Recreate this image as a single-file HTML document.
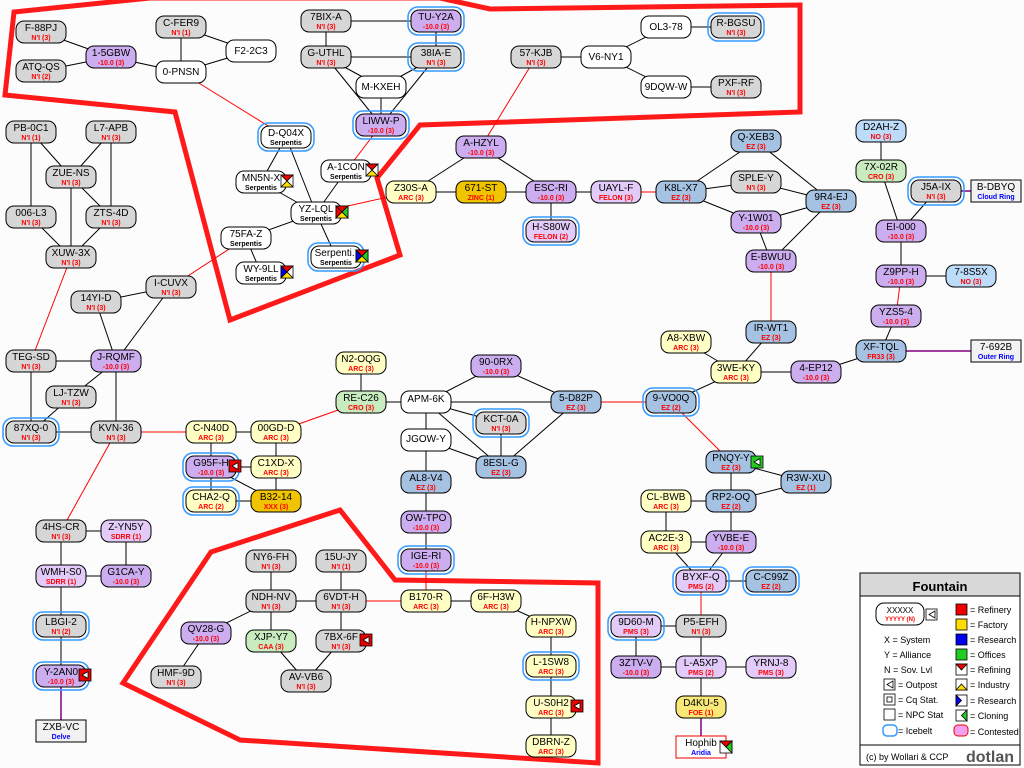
<!DOCTYPE html>
<html><head><meta charset="utf-8"><style>
body{margin:0;background:#fff}
svg{display:block;font-family:"Liberation Sans",sans-serif}
.nd rect.b{stroke:#000;stroke-width:1}
.nd text{font-size:10px;text-anchor:middle;fill:#000}
.nd text.s{font-size:7px;font-weight:bold;fill:#f00}
.nd text.u{font-size:7px;font-weight:bold;fill:#00f}
.gy rect.b{fill:#d6d6d6}.pu rect.b{fill:#ccaef0}.lp rect.b{fill:#e2cbf8}.ye rect.b{fill:#ffffc4}
.or rect.b{fill:#f0c400}.bl rect.b{fill:#a6c2e2}.lb rect.b{fill:#bcdcfa}.gr rect.b{fill:#c8ecc0}
.wh rect.b{fill:#fff}.fo rect.b{fill:#f8e878}
rect.ice{fill:none;stroke:#3399ff;stroke-width:1.5}
</style></head><body>
<svg id="m" width="1024" height="768" viewBox="0 0 1024 768">
<rect width="1024" height="768" fill="#fcfcfc"/>
<g fill="none" stroke="#ff1a1a" stroke-width="5" stroke-linejoin="miter">
<polygon points="14,12 150,-2 440,-2 490,9 800,5 800,112 420,125 377,178 400,255 230,320 175,112 5,95"/>
<polygon points="211,552 340,510 395,580 598,583 598,763 240,740 123,683"/>
</g>
<g id="edges"></g>
<g id="nodes">
<g class="nd gy" id="F-88PJ" transform="translate(16,21)"><rect class="b" width="50" height="22" rx="8"/><text x="25" y="10">F-88PJ</text><text class="s" x="25" y="19">N'I (3)</text></g>
<g class="nd gy" id="ATQ-QS" transform="translate(16,60)"><rect class="b" width="50" height="22" rx="8"/><text x="25" y="10">ATQ-QS</text><text class="s" x="25" y="19">N'I (2)</text></g>
<g class="nd pu" id="1-5GBW" transform="translate(86,46)"><rect class="b" width="50" height="22" rx="8"/><text x="25" y="10">1-5GBW</text><text class="s" x="25" y="19">-10.0 (3)</text></g>
<g class="nd gy" id="C-FER9" transform="translate(156,16)"><rect class="b" width="50" height="22" rx="8"/><text x="25" y="10">C-FER9</text><text class="s" x="25" y="19">N'I (1)</text></g>
<g class="nd wh" id="F2-2C3" transform="translate(226,40)"><rect class="b" width="50" height="22" rx="8"/><text x="25" y="14">F2-2C3</text></g>
<g class="nd wh" id="0-PNSN" transform="translate(156,61)"><rect class="b" width="50" height="22" rx="8"/><text x="25" y="14">0-PNSN</text></g>
<g class="nd gy" id="7BIX-A" transform="translate(301,10)"><rect class="b" width="50" height="22" rx="8"/><text x="25" y="10">7BIX-A</text><text class="s" x="25" y="19">N'I (3)</text></g>
<g class="nd pu" id="TU-Y2A" transform="translate(411,10)"><rect class="ice" x="-3" y="-3" width="56" height="28" rx="10"/><rect class="b" width="50" height="22" rx="8"/><text x="25" y="10">TU-Y2A</text><text class="s" x="25" y="19">-10.0 (3)</text></g>
<g class="nd gy" id="G-UTHL" transform="translate(301,46)"><rect class="b" width="50" height="22" rx="8"/><text x="25" y="10">G-UTHL</text><text class="s" x="25" y="19">N'I (3)</text></g>
<g class="nd gy" id="38IA-E" transform="translate(411,46)"><rect class="ice" x="-3" y="-3" width="56" height="28" rx="10"/><rect class="b" width="50" height="22" rx="8"/><text x="25" y="10">38IA-E</text><text class="s" x="25" y="19">N'I (3)</text></g>
<g class="nd wh" id="M-KXEH" transform="translate(356,76)"><rect class="b" width="50" height="22" rx="8"/><text x="25" y="14">M-KXEH</text></g>
<g class="nd pu" id="LIWW-P" transform="translate(356,114)"><rect class="ice" x="-3" y="-3" width="56" height="28" rx="10"/><rect class="b" width="50" height="22" rx="8"/><text x="25" y="10">LIWW-P</text><text class="s" x="25" y="19">-10.0 (3)</text></g>
<g class="nd gy" id="57-KJB" transform="translate(511,46)"><rect class="b" width="50" height="22" rx="8"/><text x="25" y="10">57-KJB</text><text class="s" x="25" y="19">N'I (3)</text></g>
<g class="nd wh" id="V6-NY1" transform="translate(581,46)"><rect class="b" width="50" height="22" rx="8"/><text x="25" y="14">V6-NY1</text></g>
<g class="nd wh" id="OL3-78" transform="translate(641,16)"><rect class="b" width="50" height="22" rx="8"/><text x="25" y="14">OL3-78</text></g>
<g class="nd gy" id="R-BGSU" transform="translate(711,16)"><rect class="ice" x="-3" y="-3" width="56" height="28" rx="10"/><rect class="b" width="50" height="22" rx="8"/><text x="25" y="10">R-BGSU</text><text class="s" x="25" y="19">N'I (3)</text></g>
<g class="nd wh" id="9DQW-W" transform="translate(641,76)"><rect class="b" width="50" height="22" rx="8"/><text x="25" y="14">9DQW-W</text></g>
<g class="nd gy" id="PXF-RF" transform="translate(711,76)"><rect class="b" width="50" height="22" rx="8"/><text x="25" y="10">PXF-RF</text><text class="s" x="25" y="19">N'I (3)</text></g>
<g class="nd wh" id="D-Q04X" transform="translate(261,126)"><rect class="ice" x="-3" y="-3" width="56" height="28" rx="10"/><rect class="b" width="50" height="22" rx="8"/><text x="25" y="10">D-Q04X</text><text class="s" style="fill:#000" x="25" y="19">Serpentis</text></g>
<g class="nd wh" id="MN5N-X" transform="translate(236,171)"><rect class="b" width="50" height="22" rx="8"/><text x="25" y="10">MN5N-X</text><text class="s" style="fill:#000" x="25" y="19">Serpentis</text></g>
<g class="nd wh" id="A-1CON" transform="translate(321,160)"><rect class="b" width="50" height="22" rx="8"/><text x="25" y="10">A-1CON</text><text class="s" style="fill:#000" x="25" y="19">Serpentis</text></g>
<g class="nd wh" id="YZ-LQL" transform="translate(291,202)"><rect class="b" width="50" height="22" rx="8"/><text x="25" y="10">YZ-LQL</text><text class="s" style="fill:#000" x="25" y="19">Serpentis</text></g>
<g class="nd wh" id="75FA-Z" transform="translate(221,227)"><rect class="b" width="50" height="22" rx="8"/><text x="25" y="10">75FA-Z</text><text class="s" style="fill:#000" x="25" y="19">Serpentis</text></g>
<g class="nd wh" id="WY-9LL" transform="translate(236,262)"><rect class="b" width="50" height="22" rx="8"/><text x="25" y="10">WY-9LL</text><text class="s" style="fill:#000" x="25" y="19">Serpentis</text></g>
<g class="nd wh" id="SERP" transform="translate(311,246)"><rect class="ice" x="-3" y="-3" width="56" height="28" rx="10"/><rect class="b" width="50" height="22" rx="8"/><text x="25" y="10">Serpenti..</text><text class="s" style="fill:#000" x="25" y="19">Serpentis</text></g>
<g class="nd gy" id="PB-0C1" transform="translate(6,121)"><rect class="b" width="50" height="22" rx="8"/><text x="25" y="10">PB-0C1</text><text class="s" x="25" y="19">N'I (1)</text></g>
<g class="nd gy" id="L7-APB" transform="translate(86,121)"><rect class="b" width="50" height="22" rx="8"/><text x="25" y="10">L7-APB</text><text class="s" x="25" y="19">N'I (3)</text></g>
<g class="nd gy" id="ZUE-NS" transform="translate(46,166)"><rect class="b" width="50" height="22" rx="8"/><text x="25" y="10">ZUE-NS</text><text class="s" x="25" y="19">N'I (3)</text></g>
<g class="nd gy" id="006-L3" transform="translate(6,206)"><rect class="b" width="50" height="22" rx="8"/><text x="25" y="10">006-L3</text><text class="s" x="25" y="19">N'I (3)</text></g>
<g class="nd gy" id="ZTS-4D" transform="translate(86,206)"><rect class="b" width="50" height="22" rx="8"/><text x="25" y="10">ZTS-4D</text><text class="s" x="25" y="19">N'I (3)</text></g>
<g class="nd gy" id="XUW-3X" transform="translate(46,246)"><rect class="b" width="50" height="22" rx="8"/><text x="25" y="10">XUW-3X</text><text class="s" x="25" y="19">N'I (3)</text></g>
<g class="nd gy" id="I-CUVX" transform="translate(146,276)"><rect class="b" width="50" height="22" rx="8"/><text x="25" y="10">I-CUVX</text><text class="s" x="25" y="19">N'I (3)</text></g>
<g class="nd gy" id="14YI-D" transform="translate(71,291)"><rect class="b" width="50" height="22" rx="8"/><text x="25" y="10">14YI-D</text><text class="s" x="25" y="19">N'I (3)</text></g>
<g class="nd gy" id="TEG-SD" transform="translate(6,350)"><rect class="b" width="50" height="22" rx="8"/><text x="25" y="10">TEG-SD</text><text class="s" x="25" y="19">N'I (3)</text></g>
<g class="nd pu" id="J-RQMF" transform="translate(91,350)"><rect class="b" width="50" height="22" rx="8"/><text x="25" y="10">J-RQMF</text><text class="s" x="25" y="19">-10.0 (3)</text></g>
<g class="nd gy" id="LJ-TZW" transform="translate(46,386)"><rect class="b" width="50" height="22" rx="8"/><text x="25" y="10">LJ-TZW</text><text class="s" x="25" y="19">N'I (3)</text></g>
<g class="nd gy" id="87XQ-0" transform="translate(6,421)"><rect class="ice" x="-3" y="-3" width="56" height="28" rx="10"/><rect class="b" width="50" height="22" rx="8"/><text x="25" y="10">87XQ-0</text><text class="s" x="25" y="19">N'I (3)</text></g>
<g class="nd gy" id="KVN-36" transform="translate(91,421)"><rect class="b" width="50" height="22" rx="8"/><text x="25" y="10">KVN-36</text><text class="s" x="25" y="19">N'I (3)</text></g>
<g class="nd ye" id="C-N40D" transform="translate(186,421)"><rect class="b" width="50" height="22" rx="8"/><text x="25" y="10">C-N40D</text><text class="s" x="25" y="19">ARC (3)</text></g>
<g class="nd ye" id="00GD-D" transform="translate(251,421)"><rect class="b" width="50" height="22" rx="8"/><text x="25" y="10">00GD-D</text><text class="s" x="25" y="19">ARC (3)</text></g>
<g class="nd pu" id="G95F-H" transform="translate(186,456)"><rect class="ice" x="-3" y="-3" width="56" height="28" rx="10"/><rect class="b" width="50" height="22" rx="8"/><text x="25" y="10">G95F-H</text><text class="s" x="25" y="19">-10.0 (3)</text></g>
<g class="nd ye" id="C1XD-X" transform="translate(251,456)"><rect class="b" width="50" height="22" rx="8"/><text x="25" y="10">C1XD-X</text><text class="s" x="25" y="19">ARC (3)</text></g>
<g class="nd ye" id="CHA2-Q" transform="translate(186,490)"><rect class="ice" x="-3" y="-3" width="56" height="28" rx="10"/><rect class="b" width="50" height="22" rx="8"/><text x="25" y="10">CHA2-Q</text><text class="s" x="25" y="19">ARC (2)</text></g>
<g class="nd or" id="B32-14" transform="translate(251,490)"><rect class="b" width="50" height="22" rx="8"/><text x="25" y="10">B32-14</text><text class="s" x="25" y="19">XXX (3)</text></g>
<g class="nd gy" id="4HS-CR" transform="translate(36,520)"><rect class="b" width="50" height="22" rx="8"/><text x="25" y="10">4HS-CR</text><text class="s" x="25" y="19">N'I (3)</text></g>
<g class="nd lp" id="Z-YN5Y" transform="translate(101,520)"><rect class="b" width="50" height="22" rx="8"/><text x="25" y="10">Z-YN5Y</text><text class="s" x="25" y="19">SDRR (1)</text></g>
<g class="nd lp" id="WMH-S0" transform="translate(36,565)"><rect class="b" width="50" height="22" rx="8"/><text x="25" y="10">WMH-S0</text><text class="s" x="25" y="19">SDRR (1)</text></g>
<g class="nd pu" id="G1CA-Y" transform="translate(101,565)"><rect class="b" width="50" height="22" rx="8"/><text x="25" y="10">G1CA-Y</text><text class="s" x="25" y="19">-10.0 (3)</text></g>
<g class="nd gy" id="LBGI-2" transform="translate(36,615)"><rect class="ice" x="-3" y="-3" width="56" height="28" rx="10"/><rect class="b" width="50" height="22" rx="8"/><text x="25" y="10">LBGI-2</text><text class="s" x="25" y="19">N'I (2)</text></g>
<g class="nd pu" id="Y-2AN0" transform="translate(36,665)"><rect class="ice" x="-3" y="-3" width="56" height="28" rx="10"/><rect class="b" width="50" height="22" rx="8"/><text x="25" y="10">Y-2AN0</text><text class="s" x="25" y="19">-10.0 (3)</text></g>
<g class="nd wh" id="ZXB-VC" transform="translate(36,720)"><rect class="b" width="50" height="22" style="fill:#f2f2f2"/><text x="25" y="10">ZXB-VC</text><text class="u" x="25" y="19">Delve</text></g>
<g class="nd ye" id="N2-OQG" transform="translate(336,352)"><rect class="b" width="50" height="22" rx="8"/><text x="25" y="10">N2-OQG</text><text class="s" x="25" y="19">ARC (3)</text></g>
<g class="nd gr" id="RE-C26" transform="translate(336,391)"><rect class="b" width="50" height="22" rx="8"/><text x="25" y="10">RE-C26</text><text class="s" x="25" y="19">CRO (3)</text></g>
<g class="nd wh" id="APM-6K" transform="translate(401,391)"><rect class="b" width="50" height="22" rx="8"/><text x="25" y="11">APM-6K</text></g>
<g class="nd pu" id="90-0RX" transform="translate(471,355)"><rect class="b" width="50" height="22" rx="8"/><text x="25" y="10">90-0RX</text><text class="s" x="25" y="19">-10.0 (3)</text></g>
<g class="nd bl" id="5-D82P" transform="translate(551,391)"><rect class="b" width="50" height="22" rx="8"/><text x="25" y="10">5-D82P</text><text class="s" x="25" y="19">EZ (3)</text></g>
<g class="nd gy" id="KCT-0A" transform="translate(476,412)"><rect class="ice" x="-3" y="-3" width="56" height="28" rx="10"/><rect class="b" width="50" height="22" rx="8"/><text x="25" y="10">KCT-0A</text><text class="s" x="25" y="19">N'I (3)</text></g>
<g class="nd wh" id="JGOW-Y" transform="translate(401,429)"><rect class="b" width="50" height="22" rx="8"/><text x="25" y="13">JGOW-Y</text></g>
<g class="nd bl" id="8ESL-G" transform="translate(476,456)"><rect class="b" width="50" height="22" rx="8"/><text x="25" y="10">8ESL-G</text><text class="s" x="25" y="19">EZ (3)</text></g>
<g class="nd bl" id="AL8-V4" transform="translate(401,471)"><rect class="b" width="50" height="22" rx="8"/><text x="25" y="10">AL8-V4</text><text class="s" x="25" y="19">EZ (3)</text></g>
<g class="nd pu" id="OW-TPO" transform="translate(401,511)"><rect class="b" width="50" height="22" rx="8"/><text x="25" y="10">OW-TPO</text><text class="s" x="25" y="19">-10.0 (3)</text></g>
<g class="nd pu" id="IGE-RI" transform="translate(401,549)"><rect class="ice" x="-3" y="-3" width="56" height="28" rx="10"/><rect class="b" width="50" height="22" rx="8"/><text x="25" y="10">IGE-RI</text><text class="s" x="25" y="19">-10.0 (3)</text></g>
<g class="nd ye" id="B170-R" transform="translate(401,590)"><rect class="b" width="50" height="22" rx="8"/><text x="25" y="10">B170-R</text><text class="s" x="25" y="19">ARC (3)</text></g>
<g class="nd ye" id="6F-H3W" transform="translate(471,590)"><rect class="b" width="50" height="22" rx="8"/><text x="25" y="10">6F-H3W</text><text class="s" x="25" y="19">ARC (3)</text></g>
<g class="nd ye" id="H-NPXW" transform="translate(526,615)"><rect class="b" width="50" height="22" rx="8"/><text x="25" y="10">H-NPXW</text><text class="s" x="25" y="19">ARC (3)</text></g>
<g class="nd ye" id="L-1SW8" transform="translate(526,655)"><rect class="ice" x="-3" y="-3" width="56" height="28" rx="10"/><rect class="b" width="50" height="22" rx="8"/><text x="25" y="10">L-1SW8</text><text class="s" x="25" y="19">ARC (3)</text></g>
<g class="nd ye" id="U-S0H2" transform="translate(526,696)"><rect class="b" width="50" height="22" rx="8"/><text x="25" y="10">U-S0H2</text><text class="s" x="25" y="19">ARC (3)</text></g>
<g class="nd ye" id="DBRN-Z" transform="translate(526,735)"><rect class="b" width="50" height="22" rx="8"/><text x="25" y="10">DBRN-Z</text><text class="s" x="25" y="19">ARC (3)</text></g>
<g class="nd gy" id="NY6-FH" transform="translate(246,550)"><rect class="b" width="50" height="22" rx="8"/><text x="25" y="10">NY6-FH</text><text class="s" x="25" y="19">N'I (3)</text></g>
<g class="nd gy" id="15U-JY" transform="translate(316,550)"><rect class="b" width="50" height="22" rx="8"/><text x="25" y="10">15U-JY</text><text class="s" x="25" y="19">N'I (1)</text></g>
<g class="nd gy" id="NDH-NV" transform="translate(246,590)"><rect class="b" width="50" height="22" rx="8"/><text x="25" y="10">NDH-NV</text><text class="s" x="25" y="19">N'I (3)</text></g>
<g class="nd gy" id="6VDT-H" transform="translate(316,590)"><rect class="b" width="50" height="22" rx="8"/><text x="25" y="10">6VDT-H</text><text class="s" x="25" y="19">N'I (3)</text></g>
<g class="nd pu" id="QV28-G" transform="translate(181,622)"><rect class="b" width="50" height="22" rx="8"/><text x="25" y="10">QV28-G</text><text class="s" x="25" y="19">-10.0 (3)</text></g>
<g class="nd gr" id="XJP-Y7" transform="translate(246,630)"><rect class="b" width="50" height="22" rx="8"/><text x="25" y="10">XJP-Y7</text><text class="s" x="25" y="19">CAA (3)</text></g>
<g class="nd gy" id="7BX-6F" transform="translate(316,630)"><rect class="b" width="50" height="22" rx="8"/><text x="25" y="10">7BX-6F</text><text class="s" x="25" y="19">N'I (3)</text></g>
<g class="nd gy" id="HMF-9D" transform="translate(151,666)"><rect class="b" width="50" height="22" rx="8"/><text x="25" y="10">HMF-9D</text><text class="s" x="25" y="19">N'I (3)</text></g>
<g class="nd gy" id="AV-VB6" transform="translate(281,670)"><rect class="b" width="50" height="22" rx="8"/><text x="25" y="10">AV-VB6</text><text class="s" x="25" y="19">N'I (3)</text></g>
<g class="nd pu" id="A-HZYL" transform="translate(456,136)"><rect class="b" width="50" height="22" rx="8"/><text x="25" y="10">A-HZYL</text><text class="s" x="25" y="19">-10.0 (3)</text></g>
<g class="nd ye" id="Z30S-A" transform="translate(386,181)"><rect class="b" width="50" height="22" rx="8"/><text x="25" y="10">Z30S-A</text><text class="s" x="25" y="19">ARC (3)</text></g>
<g class="nd or" id="671-ST" transform="translate(456,181)"><rect class="b" width="50" height="22" rx="8"/><text x="25" y="10">671-ST</text><text class="s" x="25" y="19">ZINC (1)</text></g>
<g class="nd pu" id="ESC-RI" transform="translate(526,181)"><rect class="b" width="50" height="22" rx="8"/><text x="25" y="10">ESC-RI</text><text class="s" x="25" y="19">-10.0 (3)</text></g>
<g class="nd lp" id="H-S80W" transform="translate(526,220)"><rect class="ice" x="-3" y="-3" width="56" height="28" rx="10"/><rect class="b" width="50" height="22" rx="8"/><text x="25" y="10">H-S80W</text><text class="s" x="25" y="19">FELON (2)</text></g>
<g class="nd lp" id="UAYL-F" transform="translate(591,181)"><rect class="b" width="50" height="22" rx="8"/><text x="25" y="10">UAYL-F</text><text class="s" x="25" y="19">FELON (3)</text></g>
<g class="nd bl" id="K8L-X7" transform="translate(656,181)"><rect class="b" width="50" height="22" rx="8"/><text x="25" y="10">K8L-X7</text><text class="s" x="25" y="19">EZ (3)</text></g>
<g class="nd bl" id="Q-XEB3" transform="translate(731,130)"><rect class="b" width="50" height="22" rx="8"/><text x="25" y="10">Q-XEB3</text><text class="s" x="25" y="19">EZ (3)</text></g>
<g class="nd gy" id="SPLE-Y" transform="translate(731,171)"><rect class="b" width="50" height="22" rx="8"/><text x="25" y="10">SPLE-Y</text><text class="s" x="25" y="19">N'I (3)</text></g>
<g class="nd bl" id="9R4-EJ" transform="translate(806,190)"><rect class="b" width="50" height="22" rx="8"/><text x="25" y="10">9R4-EJ</text><text class="s" x="25" y="19">EZ (3)</text></g>
<g class="nd pu" id="Y-1W01" transform="translate(731,211)"><rect class="b" width="50" height="22" rx="8"/><text x="25" y="10">Y-1W01</text><text class="s" x="25" y="19">-10.0 (3)</text></g>
<g class="nd pu" id="E-BWUU" transform="translate(746,250)"><rect class="b" width="50" height="22" rx="8"/><text x="25" y="10">E-BWUU</text><text class="s" x="25" y="19">-10.0 (3)</text></g>
<g class="nd bl" id="IR-WT1" transform="translate(746,321)"><rect class="b" width="50" height="22" rx="8"/><text x="25" y="10">IR-WT1</text><text class="s" x="25" y="19">EZ (3)</text></g>
<g class="nd ye" id="A8-XBW" transform="translate(661,331)"><rect class="b" width="50" height="22" rx="8"/><text x="25" y="10">A8-XBW</text><text class="s" x="25" y="19">ARC (3)</text></g>
<g class="nd ye" id="3WE-KY" transform="translate(711,361)"><rect class="b" width="50" height="22" rx="8"/><text x="25" y="10">3WE-KY</text><text class="s" x="25" y="19">ARC (3)</text></g>
<g class="nd pu" id="4-EP12" transform="translate(791,361)"><rect class="b" width="50" height="22" rx="8"/><text x="25" y="10">4-EP12</text><text class="s" x="25" y="19">-10.0 (3)</text></g>
<g class="nd bl" id="9-VO0Q" transform="translate(646,391)"><rect class="ice" x="-3" y="-3" width="56" height="28" rx="10"/><rect class="b" width="50" height="22" rx="8"/><text x="25" y="10">9-VO0Q</text><text class="s" x="25" y="19">EZ (2)</text></g>
<g class="nd bl" id="PNQY-Y" transform="translate(706,451)"><rect class="b" width="50" height="22" rx="8"/><text x="25" y="10">PNQY-Y</text><text class="s" x="25" y="19">EZ (3)</text></g>
<g class="nd bl" id="R3W-XU" transform="translate(781,471)"><rect class="b" width="50" height="22" rx="8"/><text x="25" y="10">R3W-XU</text><text class="s" x="25" y="19">EZ (1)</text></g>
<g class="nd ye" id="CL-BWB" transform="translate(641,490)"><rect class="b" width="50" height="22" rx="8"/><text x="25" y="10">CL-BWB</text><text class="s" x="25" y="19">ARC (3)</text></g>
<g class="nd bl" id="RP2-OQ" transform="translate(706,490)"><rect class="b" width="50" height="22" rx="8"/><text x="25" y="10">RP2-OQ</text><text class="s" x="25" y="19">EZ (2)</text></g>
<g class="nd ye" id="AC2E-3" transform="translate(641,531)"><rect class="b" width="50" height="22" rx="8"/><text x="25" y="10">AC2E-3</text><text class="s" x="25" y="19">ARC (3)</text></g>
<g class="nd pu" id="YVBE-E" transform="translate(706,531)"><rect class="b" width="50" height="22" rx="8"/><text x="25" y="10">YVBE-E</text><text class="s" x="25" y="19">-10.0 (3)</text></g>
<g class="nd lp" id="BYXF-Q" transform="translate(676,570)"><rect class="ice" x="-3" y="-3" width="56" height="28" rx="10"/><rect class="b" width="50" height="22" rx="8"/><text x="25" y="10">BYXF-Q</text><text class="s" x="25" y="19">PMS (2)</text></g>
<g class="nd bl" id="C-C99Z" transform="translate(746,570)"><rect class="ice" x="-3" y="-3" width="56" height="28" rx="10"/><rect class="b" width="50" height="22" rx="8"/><text x="25" y="10">C-C99Z</text><text class="s" x="25" y="19">EZ (2)</text></g>
<g class="nd lp" id="9D60-M" transform="translate(611,615)"><rect class="ice" x="-3" y="-3" width="56" height="28" rx="10"/><rect class="b" width="50" height="22" rx="8"/><text x="25" y="10">9D60-M</text><text class="s" x="25" y="19">PMS (3)</text></g>
<g class="nd gy" id="P5-EFH" transform="translate(676,615)"><rect class="b" width="50" height="22" rx="8"/><text x="25" y="10">P5-EFH</text><text class="s" x="25" y="19">N'I (3)</text></g>
<g class="nd pu" id="3ZTV-V" transform="translate(611,656)"><rect class="b" width="50" height="22" rx="8"/><text x="25" y="10">3ZTV-V</text><text class="s" x="25" y="19">-10.0 (3)</text></g>
<g class="nd lp" id="L-A5XP" transform="translate(676,656)"><rect class="b" width="50" height="22" rx="8"/><text x="25" y="10">L-A5XP</text><text class="s" x="25" y="19">PMS (2)</text></g>
<g class="nd lp" id="YRNJ-8" transform="translate(746,656)"><rect class="b" width="50" height="22" rx="8"/><text x="25" y="10">YRNJ-8</text><text class="s" x="25" y="19">PMS (3)</text></g>
<g class="nd fo" id="D4KU-5" transform="translate(676,696)"><rect class="b" width="50" height="22" rx="8"/><text x="25" y="10">D4KU-5</text><text class="s" x="25" y="19">FOE (1)</text></g>
<g class="nd wh" id="Hophib" transform="translate(676,736)"><rect class="b" width="50" height="22" style="stroke:#e00"/><text x="25" y="10">Hophib</text><text class="u" x="25" y="19">Aridia</text></g>
<g class="nd lb" id="D2AH-Z" transform="translate(856,120)"><rect class="b" width="50" height="22" rx="8"/><text x="25" y="10">D2AH-Z</text><text class="s" x="25" y="19">NO (3)</text></g>
<g class="nd gr" id="7X-02R" transform="translate(856,160)"><rect class="b" width="50" height="22" rx="8"/><text x="25" y="10">7X-02R</text><text class="s" x="25" y="19">CRO (3)</text></g>
<g class="nd gy" id="J5A-IX" transform="translate(911,180)"><rect class="ice" x="-3" y="-3" width="56" height="28" rx="10"/><rect class="b" width="50" height="22" rx="8"/><text x="25" y="10">J5A-IX</text><text class="s" x="25" y="19">N'I (3)</text></g>
<g class="nd wh" id="B-DBYQ" transform="translate(971,180)"><rect class="b" width="50" height="22" style="fill:#f2f2f2"/><text x="25" y="10">B-DBYQ</text><text class="u" x="25" y="19">Cloud Ring</text></g>
<g class="nd pu" id="EI-000" transform="translate(876,220)"><rect class="b" width="50" height="22" rx="8"/><text x="25" y="10">EI-000</text><text class="s" x="25" y="19">-10.0 (3)</text></g>
<g class="nd pu" id="Z9PP-H" transform="translate(876,265)"><rect class="b" width="50" height="22" rx="8"/><text x="25" y="10">Z9PP-H</text><text class="s" x="25" y="19">-10.0 (3)</text></g>
<g class="nd lb" id="7-8S5X" transform="translate(946,265)"><rect class="b" width="50" height="22" rx="8"/><text x="25" y="10">7-8S5X</text><text class="s" x="25" y="19">NO (3)</text></g>
<g class="nd pu" id="YZS5-4" transform="translate(871,305)"><rect class="b" width="50" height="22" rx="8"/><text x="25" y="10">YZS5-4</text><text class="s" x="25" y="19">-10.0 (3)</text></g>
<g class="nd bl" id="XF-TQL" transform="translate(856,340)"><rect class="b" width="50" height="22" rx="8"/><text x="25" y="10">XF-TQL</text><text class="s" x="25" y="19">FR33 (3)</text></g>
<g class="nd wh" id="7-692B" transform="translate(971,340)"><rect class="b" width="50" height="22" style="fill:#f2f2f2"/><text x="25" y="10">7-692B</text><text class="u" x="25" y="19">Outer Ring</text></g>
</g>
<defs>
<g id="st"><rect width="12" height="12" stroke="#000"/><polygon points="3,6 9,2.5 9,9.5" fill="#fff"/></g>
</defs>
<g stroke="#000" stroke-width="0.8">
<use href="#st" x="229" y="460" fill="#e00"/><use href="#st" x="79" y="669" fill="#e00"/>
<use href="#st" x="360" y="634" fill="#e00"/><use href="#st" x="571" y="700" fill="#e00"/>
<use href="#st" x="751" y="456" fill="#2c2"/>
</g>
<g stroke="#000" stroke-width="0.8">
<g transform="translate(281,175)"><rect width="12" height="12" fill="#fff"/><polygon points="0,0 12,0 6,6" fill="#e00"/><polygon points="0,12 12,12 6,6" fill="#fd0"/></g>
<g transform="translate(366,164)"><rect width="12" height="12" fill="#fff"/><polygon points="0,0 12,0 6,6" fill="#e00"/><polygon points="0,12 12,12 6,6" fill="#fd0"/></g>
<g transform="translate(336,206)"><rect width="12" height="12" fill="#fff"/><polygon points="0,0 12,0 6,6" fill="#e00"/><polygon points="0,0 0,12 6,6" fill="#e00"/><polygon points="12,0 12,12 6,6" fill="#2c2"/><polygon points="0,12 12,12 6,6" fill="#fd0"/></g>
<g transform="translate(281,266)"><rect width="12" height="12" fill="#fff"/><polygon points="0,0 12,0 6,6" fill="#e00"/><polygon points="0,0 0,12 6,6" fill="#00e"/><polygon points="0,12 12,12 6,6" fill="#fd0"/></g>
<g transform="translate(356,250)"><rect width="12" height="12" fill="#fff"/><polygon points="0,0 12,0 6,6" fill="#e00"/><polygon points="0,0 0,12 6,6" fill="#00e"/><polygon points="12,0 12,12 6,6" fill="#2c2"/><polygon points="0,12 12,12 6,6" fill="#fd0"/></g>
<g transform="translate(720,741)"><rect width="12" height="12" fill="#fff"/><polygon points="0,0 12,0 6,6" fill="#e00"/><polygon points="12,0 12,12 6,6" fill="#2c2"/></g>
</g>
<!-- legend -->
<g transform="translate(860,573)">
<rect width="160" height="192" fill="#fff" stroke="#000"/>
<rect x="0.5" y="0.5" width="159" height="22" fill="#d8d8d8"/>
<line x1="0" y1="23" x2="160" y2="23" stroke="#000"/>
<line x1="0" y1="172" x2="160" y2="172" stroke="#000"/>
<text x="80" y="18" font-size="13" font-weight="bold" text-anchor="middle">Fountain</text>
<rect x="16" y="30" width="48" height="22" rx="8" fill="#fff" stroke="#000"/>
<text x="40" y="40" font-size="8" text-anchor="middle">XXXXX</text>
<text x="40" y="48" font-size="6" font-weight="bold" fill="#f00" text-anchor="middle">YYYYY (N)</text>
<g stroke="#000" stroke-width="0.8"><rect x="66" y="36" width="11" height="11" fill="#fff"/><polygon points="69,41.5 75,38 75,45" fill="#fff"/></g>
<g font-size="9">
<text x="24" y="70">X  = System</text>
<text x="24" y="85">Y  = Alliance</text>
<text x="24" y="100">N  = Sov. Lvl</text>
<text x="38" y="115">= Outpost</text>
<text x="38" y="130">= Cq Stat.</text>
<text x="38" y="145">= NPC Stat</text>
<text x="38" y="161">= Icebelt</text>
<text x="110" y="40">= Refinery</text>
<text x="110" y="55">= Factory</text>
<text x="110" y="70">= Research</text>
<text x="110" y="85">= Offices</text>
<text x="110" y="100">= Refining</text>
<text x="110" y="115">= Industry</text>
<text x="110" y="131">= Research</text>
<text x="110" y="146">= Cloning</text>
<text x="110" y="162">= Contested</text>
</g>
<g stroke="#000" stroke-width="0.8">
<rect x="24" y="106" width="11" height="11" fill="#fff"/><polygon points="27,111.5 33,108 33,115" fill="#fff"/>
<rect x="24" y="121" width="11" height="11" fill="#fff"/><rect x="27" y="124" width="5" height="5" fill="#fff"/>
<rect x="24" y="136" width="11" height="11" fill="#fff"/>
<rect x="96" y="31" width="11" height="11" fill="#e00"/>
<rect x="96" y="46" width="11" height="11" fill="#fd0"/>
<rect x="96" y="61" width="11" height="11" fill="#00e"/>
<rect x="96" y="76" width="11" height="11" fill="#2c2"/>
<rect x="96" y="91" width="11" height="11" fill="#fff"/><polygon points="96,91 107,91 101.5,97" fill="#e00"/>
<rect x="96" y="106" width="11" height="11" fill="#fff"/><polygon points="96,117 107,117 101.5,111" fill="#fd0"/>
<rect x="96" y="122" width="11" height="11" fill="#fff"/><polygon points="96,122 96,133 101.5,127.5" fill="#00e"/>
<rect x="96" y="137" width="11" height="11" fill="#fff"/><polygon points="107,137 107,148 101.5,142.5" fill="#2c2"/>
</g>
<rect x="23" y="152" width="14" height="11" rx="4" fill="#fff" stroke="#3399ff" stroke-width="1.5"/>
<rect x="94" y="152" width="14" height="11" rx="4" fill="#f4a0f0" stroke="#e00"/>
<text x="6" y="187" font-size="9">(c) by Wollari &amp; CCP</text>
<text x="106" y="189" font-size="16" font-weight="bold" fill="#555">dotlan</text>
</g>
</svg>
<script>
var E=[
["F-88PJ","1-5GBW"],["ATQ-QS","1-5GBW"],["1-5GBW","0-PNSN"],["C-FER9","0-PNSN"],["C-FER9","F2-2C3"],["0-PNSN","F2-2C3"],
["7BIX-A","TU-Y2A"],["7BIX-A","G-UTHL"],["TU-Y2A","38IA-E"],["G-UTHL","38IA-E"],["G-UTHL","M-KXEH"],["G-UTHL","LIWW-P"],["M-KXEH","LIWW-P"],["38IA-E","LIWW-P"],["38IA-E","M-KXEH"],
["57-KJB","V6-NY1"],["V6-NY1","OL3-78"],["V6-NY1","9DQW-W"],["OL3-78","R-BGSU"],["9DQW-W","PXF-RF"],
["D-Q04X","MN5N-X"],["D-Q04X","YZ-LQL"],["MN5N-X","YZ-LQL"],["A-1CON","YZ-LQL"],["YZ-LQL","75FA-Z"],["YZ-LQL","SERP"],["75FA-Z","WY-9LL"],
["PB-0C1","ZUE-NS"],["PB-0C1","006-L3"],["L7-APB","ZUE-NS"],["L7-APB","ZTS-4D"],["ZUE-NS","ZTS-4D"],["ZUE-NS","XUW-3X"],["006-L3","XUW-3X"],["ZTS-4D","XUW-3X"],
["I-CUVX","14YI-D"],["I-CUVX","J-RQMF"],["14YI-D","J-RQMF"],["TEG-SD","J-RQMF"],["TEG-SD","87XQ-0"],["J-RQMF","LJ-TZW"],["J-RQMF","KVN-36"],["LJ-TZW","87XQ-0"],["87XQ-0","KVN-36"],
["C-N40D","00GD-D"],["C-N40D","G95F-H"],["00GD-D","C1XD-X"],["G95F-H","C1XD-X"],["G95F-H","CHA2-Q"],["G95F-H","B32-14"],["C1XD-X","B32-14"],["CHA2-Q","B32-14"],
["4HS-CR","Z-YN5Y"],["4HS-CR","WMH-S0"],["Z-YN5Y","G1CA-Y"],["WMH-S0","G1CA-Y"],["WMH-S0","LBGI-2"],["LBGI-2","Y-2AN0"],
["N2-OQG","RE-C26"],["RE-C26","APM-6K"],["APM-6K","90-0RX"],["APM-6K","5-D82P"],["APM-6K","KCT-0A"],["APM-6K","8ESL-G"],["APM-6K","JGOW-Y"],["90-0RX","5-D82P"],["5-D82P","8ESL-G"],["KCT-0A","8ESL-G"],["JGOW-Y","8ESL-G"],["JGOW-Y","AL8-V4"],["AL8-V4","OW-TPO"],["OW-TPO","IGE-RI"],
["B170-R","6F-H3W"],["6F-H3W","H-NPXW"],["H-NPXW","L-1SW8"],["L-1SW8","U-S0H2"],["U-S0H2","DBRN-Z"],
["NY6-FH","NDH-NV"],["15U-JY","6VDT-H"],["NDH-NV","6VDT-H"],["NDH-NV","QV28-G"],["NDH-NV","XJP-Y7"],["6VDT-H","7BX-6F"],["XJP-Y7","AV-VB6"],["7BX-6F","AV-VB6"],["QV28-G","HMF-9D"],
["A-HZYL","Z30S-A"],["A-HZYL","ESC-RI"],["Z30S-A","671-ST"],["671-ST","ESC-RI"],["ESC-RI","UAYL-F"],["ESC-RI","H-S80W"],
["K8L-X7","Q-XEB3"],["K8L-X7","SPLE-Y"],["K8L-X7","Y-1W01"],["Q-XEB3","9R4-EJ"],["SPLE-Y","9R4-EJ"],["Y-1W01","9R4-EJ"],["Y-1W01","E-BWUU"],["E-BWUU","9R4-EJ"],
["IR-WT1","3WE-KY"],["A8-XBW","3WE-KY"],["3WE-KY","4-EP12"],["3WE-KY","9-VO0Q"],["4-EP12","XF-TQL"],
["PNQY-Y","RP2-OQ"],["PNQY-Y","R3W-XU"],["RP2-OQ","R3W-XU"],["CL-BWB","RP2-OQ"],["CL-BWB","AC2E-3"],["RP2-OQ","YVBE-E"],["AC2E-3","YVBE-E"],["AC2E-3","BYXF-Q"],["YVBE-E","BYXF-Q"],["BYXF-Q","C-C99Z"],
["9D60-M","P5-EFH"],["9D60-M","3ZTV-V"],["P5-EFH","L-A5XP"],["3ZTV-V","L-A5XP"],["L-A5XP","YRNJ-8"],["L-A5XP","D4KU-5"],
["D2AH-Z","7X-02R"],["7X-02R","EI-000"],["J5A-IX","EI-000"],["EI-000","Z9PP-H"],["Z9PP-H","7-8S5X"],["YZS5-4","XF-TQL"],
["0-PNSN","D-Q04X","r"],["LIWW-P","A-1CON","r"],["YZ-LQL","Z30S-A","r"],["57-KJB","A-HZYL","r"],["75FA-Z","I-CUVX","r"],["XUW-3X","TEG-SD","r"],["KVN-36","C-N40D","r"],["KVN-36","4HS-CR","r"],["00GD-D","RE-C26","r"],["5-D82P","9-VO0Q","r"],["UAYL-F","K8L-X7","r"],["E-BWUU","IR-WT1","r"],["9-VO0Q","PNQY-Y","r"],["Z9PP-H","YZS5-4","r"],["IGE-RI","B170-R","r"],["6VDT-H","B170-R","r"],["BYXF-Q","P5-EFH","r"],
["J5A-IX","B-DBYQ","p"],["XF-TQL","7-692B","p"],["Y-2AN0","ZXB-VC","p"],["D4KU-5","Hophib","p"]];
function c(id){var t=document.getElementById(id).getAttribute("transform").match(/[-\d.]+/g);return [ +t[0]+25, +t[1]+11];}
var g=document.getElementById("edges"),h="";
E.forEach(function(e){var a=c(e[0]),b=c(e[1]);var col=e[2]=="r"?"#f00":e[2]=="p"?"#800080":"#000";var w=e[2]=="p"?1.5:1;
h+='<line x1="'+a[0]+'" y1="'+a[1]+'" x2="'+b[0]+'" y2="'+b[1]+'" stroke="'+col+'" stroke-width="'+w+'"/>';});
g.innerHTML=h;
</script>
</body></html>
